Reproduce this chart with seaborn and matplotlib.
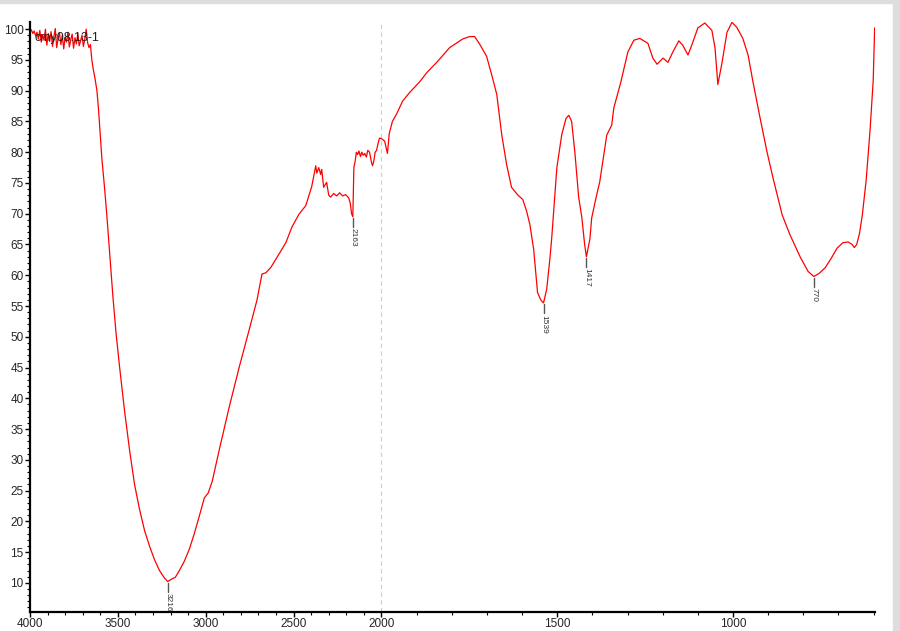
import numpy as np
import pandas as pd
import seaborn as sns
import matplotlib.pyplot as plt
from matplotlib.ticker import FixedLocator, NullFormatter
from matplotlib.patches import Rectangle

# wavenumber (cm-1) and transmittance (%)
noise_wn = [4000, 3992, 3984, 3976, 3968, 3960, 3952, 3944, 3936, 3928, 3920,
            3912, 3904, 3896, 3888, 3880, 3872, 3864, 3856, 3848, 3840, 3832,
            3824, 3816, 3808, 3800, 3792, 3784, 3776, 3768, 3760, 3752, 3744,
            3736, 3728, 3720, 3712, 3704, 3696, 3688, 3680, 3672, 3664]
noise_tr = [99.6, 99.9, 99.3, 99.7, 98.9, 99.5, 98.4, 99.8, 97.9, 99.1, 98.2,
            100.0, 97.4, 99.3, 98.0, 99.6, 97.2, 98.8, 100.1, 97.0, 98.5, 99.4,
            97.5, 99.0, 96.8, 98.7, 97.9, 99.5, 97.1, 98.3, 99.2, 96.9, 98.6,
            97.6, 99.3, 97.3, 98.1, 99.0, 97.2, 98.4, 100.0, 97.8, 97.0]

band_wn = [3656, 3648, 3640, 3630, 3619, 3610, 3602, 3591, 3575, 3562, 3545,
           3528, 3510, 3489, 3462, 3433, 3405, 3377, 3348, 3320, 3292, 3263,
           3235, 3216, 3195, 3173, 3150, 3122, 3093, 3065, 3037, 3008, 2986,
           2963, 2924, 2867, 2810, 2754, 2708, 2680, 2658, 2629, 2601, 2544,
           2510, 2470, 2431, 2397, 2374, 2368, 2357, 2346, 2340, 2329, 2312,
           2300, 2289, 2272, 2255, 2238, 2221, 2204, 2187, 2178, 2170, 2163,
           2160, 2157, 2150, 2143, 2136, 2128, 2120, 2112, 2104, 2095, 2086,
           2078, 2068, 2058, 2051, 2044, 2036, 2028, 2018, 2011, 2000, 1991,
           1983, 1978, 1969, 1957, 1940, 1920, 1892, 1870, 1843, 1806, 1769,
           1749, 1735, 1721, 1701, 1687, 1672, 1658, 1644, 1630, 1613, 1598,
           1587, 1578, 1567, 1561, 1556, 1547, 1539, 1530, 1521, 1516, 1508,
           1501, 1487, 1475, 1467, 1459, 1450, 1439, 1430, 1422, 1417, 1407,
           1402, 1390, 1379, 1359, 1345, 1339, 1319, 1299, 1282, 1265, 1242,
           1228, 1216, 1199, 1185, 1171, 1154, 1143, 1128, 1114, 1100, 1080,
           1060, 1051, 1043, 1031, 1017, 1003, 989, 972, 957, 943, 923, 903,
           886, 860, 838, 809, 786, 770, 755, 738, 720, 704, 687, 672, 661,
           655, 648, 640, 632, 621, 610, 601, 597]
band_tr = [97.5, 95.0, 93.5, 92.0, 90.0, 87.0, 83.7, 79.0, 74.0, 69.5, 63.0,
           56.5, 50.5, 44.8, 38.0, 31.5, 26.0, 22.0, 18.5, 16.0, 13.8, 12.0,
           10.8, 10.2, 10.6, 10.9, 12.0, 13.5, 15.5, 18.0, 20.8, 23.8, 24.6,
           26.5, 31.5, 38.5, 45.0, 51.0, 56.0, 60.2, 60.4, 61.3, 62.6, 65.3,
           67.8, 69.9, 71.3, 74.4, 77.8, 76.6, 77.5, 76.4, 77.2, 74.3, 75.1,
           73.0, 72.7, 73.3, 72.9, 73.4, 72.9, 73.1, 72.6, 71.8, 70.0, 69.5,
           73.5, 77.5, 78.5, 80.0, 79.6, 80.2, 79.3, 80.0, 79.5, 79.8, 79.2,
           80.3, 80.0, 78.5, 77.8, 78.5, 80.0, 80.3, 81.6, 82.3, 82.2, 81.8,
           79.8, 83.0, 85.0, 86.2, 88.3, 89.7, 91.4, 93.0, 94.6, 97.0, 98.4,
           98.8, 98.8, 97.6, 95.6, 92.7, 89.4, 82.9, 78.0, 74.3, 73.1, 72.3,
           70.4, 68.3, 64.2, 60.4, 57.2, 56.0, 55.5, 57.7, 62.6, 65.8, 72.0,
           77.5, 82.9, 85.5, 86.0, 85.0, 80.1, 72.7, 69.4, 65.0, 63.0, 65.9,
           69.3, 72.5, 75.2, 82.8, 84.4, 87.2, 91.4, 96.3, 98.2, 98.5, 97.7,
           95.3, 94.3, 95.3, 94.6, 96.3, 98.1, 97.4, 95.8, 97.9, 100.2, 101.0,
           99.8, 96.9, 91.0, 94.6, 99.5, 101.1, 100.3, 98.5, 95.8, 91.4, 85.6, 80.0,
           75.8, 69.8, 66.6, 63.0, 60.6, 59.8, 60.3, 61.2, 62.8, 64.4, 65.3, 65.4,
           65.0, 64.5, 65.0, 66.8, 69.8, 75.5, 83.6, 91.7, 100.2]

peak_wn = [3216, 2163, 1539, 1417, 770]
peak_tr = [10.2, 69.5, 55.5, 63.0, 59.8]
peak_labels = ['3216', '2163', '1539', '1417', '770']

x_ticks = [4000, 3500, 3000, 2500, 2000, 1500, 1000]
y_ticks = [10, 15, 20, 25, 30, 35, 40, 45, 50, 55, 60, 65, 70, 75, 80, 85, 90, 95, 100]

spec = pd.DataFrame({'wavenumber': noise_wn + band_wn,
                     'transmittance': noise_tr + band_tr})


# axis is compressed 2x above 2000 cm-1, like the instrument plot
def fwd(w):
    w = np.asarray(w, dtype=float)
    return np.where(w >= 2000, 2000 + (w - 2000) / 2, w)


def inv(p):
    p = np.asarray(p, dtype=float)
    return np.where(p >= 2000, 2000 + (p - 2000) * 2, p)


sns.set_theme(style='ticks')
plt.rcParams['font.family'] = ['Liberation Sans', 'DejaVu Sans']

fig = plt.figure(figsize=(9, 6.31), dpi=100)
ax = fig.add_axes([0.0333, 0.030, 0.9389, 0.9345])

sns.lineplot(data=spec, x='wavenumber', y='transmittance', sort=False,
             estimator=None, color='#ff0000', linewidth=0.9, ax=ax)

ax.set_xscale('function', functions=(fwd, inv))
ax.set_xlim(4000, 596)
ax.set_ylim(5.25, 101.1)

ax.xaxis.set_major_locator(FixedLocator(x_ticks))
ax.xaxis.set_minor_locator(FixedLocator(list(range(3900, 599, -100))))
ax.xaxis.set_minor_formatter(NullFormatter())
ax.yaxis.set_major_locator(FixedLocator(y_ticks))
ax.yaxis.set_minor_locator(FixedLocator(list(range(6, 101))))
ax.set_xticklabels([str(t) for t in x_ticks])
ax.set_yticklabels([str(t) for t in y_ticks])

ax.tick_params(axis='both', which='major', length=3.5, width=1.0,
               labelsize=8.5, color='black', pad=1)
ax.tick_params(axis='both', which='minor', length=2, width=0.8, color='black')
ax.set_xlabel('')
ax.set_ylabel('')
sns.despine(ax=ax)
for side in ['left', 'bottom']:
    ax.spines[side].set_linewidth(1.6)
    ax.spines[side].set_color('black')

ax.axvline(2000, color='#cccccc', linestyle=(0, (4, 3)), linewidth=0.8, zorder=0)

# peak markers
for w, t, lab in zip(peak_wn, peak_tr, peak_labels):
    ax.plot([w, w], [t - 0.2, t - 1.7], color='#555555', linewidth=1.0)
    ax.text(w, t - 1.9, lab, rotation=270, ha='center', va='top',
            fontsize=6, color='#333333', clip_on=False)

ax.text(3975, 98.6, 'cmy08.13-1', ha='left', va='center', fontsize=9, color='#222222')

# page border seen in the reference
fig.patches.append(Rectangle((0.992, 0), 0.008, 1, transform=fig.transFigure,
                             color='#dddddd', zorder=-1))
fig.patches.append(Rectangle((0, 0.996), 1, 0.004, transform=fig.transFigure,
                             color='#dddddd', zorder=-1))

fig.savefig('out.png', dpi=100)
